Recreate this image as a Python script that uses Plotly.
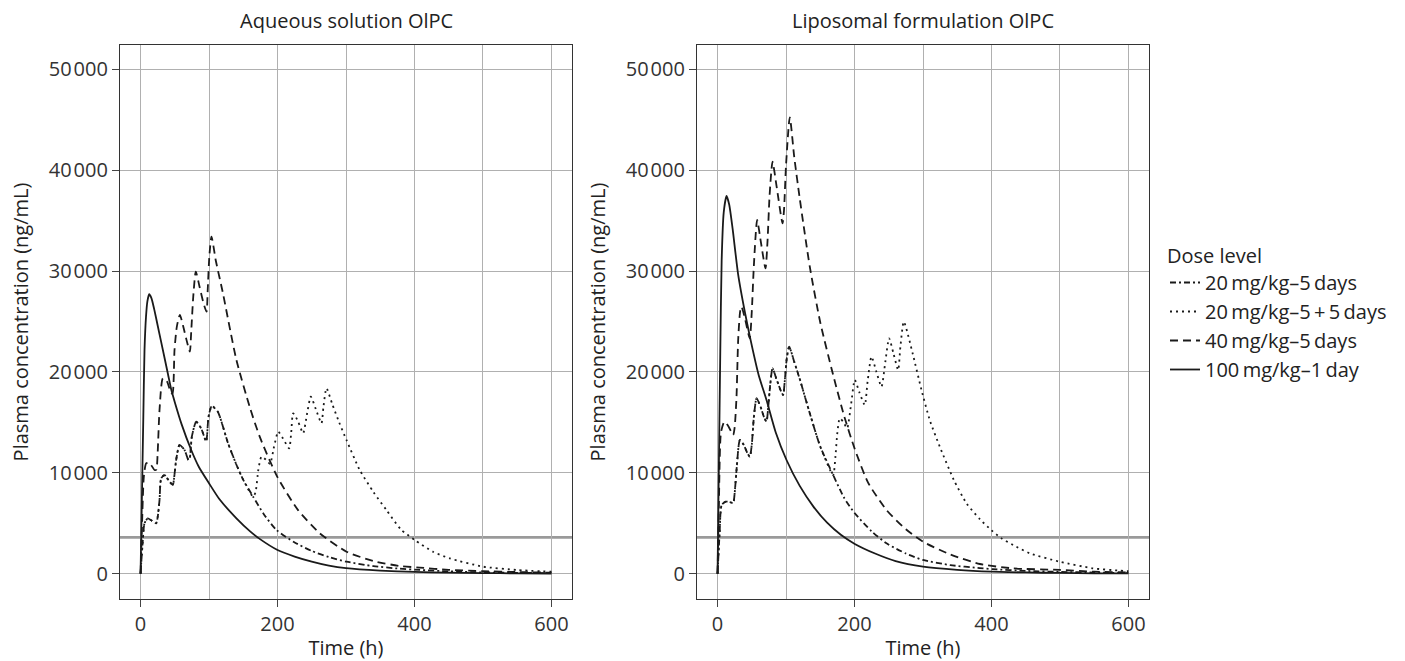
import plotly.graph_objects as go

# ---------------- data ----------------
SERIES_NAMES = [
    "20\u2009mg/kg\u20135\u2009days",
    "20\u2009mg/kg\u20135\u2009+\u20095\u2009days",
    "40\u2009mg/kg\u20135\u2009days",
    "100\u2009mg/kg\u20131\u2009day",
]
PANEL_TITLES = ["Aqueous solution OlPC", "Liposomal formulation OlPC"]
THRESHOLD = 3600
X_TICKS = [0, 200, 400, 600]
Y_TICKS = [0, 10000, 20000, 30000, 40000, 50000]
Y_TICK_TEXT = ["0", "10\u200a000", "20\u200a000", "30\u200a000", "40\u200a000", "50\u200a000"]

# ---- Aqueous solution ----
AQ_T_20x5 = [0, 3, 5.8, 10.7, 15.5, 22.8, 25, 27.7, 30.1, 35, 42.3, 47.2, 49, 52, 56.9, 64.2, 70, 72,
             74.9, 81.2, 88.5, 95.8, 97, 99.3, 104, 112.8, 127.4, 140, 150, 164.4, 180, 198.5, 225, 250,
             275, 300.7, 340, 378, 407.7, 450, 500, 550, 600]
AQ_C_20x5 = [0, 3000, 5000, 5490, 5300, 5000, 5600, 7300, 9450, 9780, 9120, 8790, 9500, 11270, 12760,
             12260, 11270, 11500, 13580, 15070, 14410, 13090, 13600, 15560, 16620, 16060, 13000, 10800,
             9300, 7630, 5900, 4330, 3100, 2250, 1650, 1190, 750, 500, 370, 230, 130, 80, 50]

AQ_T_20x10 = [0, 3, 5.8, 10.7, 15.5, 22.8, 25, 27.7, 30.1, 35, 42.3, 47.2, 49, 52, 56.9, 64.2, 70, 72,
              74.9, 81.2, 88.5, 95.8, 97, 99.3, 104, 112.8, 127.4, 140, 150, 164.4, 168, 172, 176.6, 183,
              189, 195, 201, 208, 217, 220, 222.8, 230, 237.4, 243, 248.6, 256, 264.2, 267, 271.5, 280,
              290, 300.7, 320, 340, 359, 380, 400.4, 427, 451.5, 500, 549, 600]
AQ_C_20x10 = [0, 3000, 5000, 5490, 5300, 5000, 5600, 7300, 9450, 9780, 9120, 8790, 9500, 11270, 12760,
              12260, 11270, 11500, 13580, 15070, 14410, 13090, 13600, 15560, 16620, 16060, 13000, 10800,
              9300, 7630, 8100, 10300, 11600, 11300, 10900, 12600, 14080, 13400, 12430, 14000, 15900,
              15100, 13920, 15800, 17550, 16300, 14910, 16500, 18380, 16800, 15000, 13250, 10280, 8100,
              6310, 4400, 3340, 2180, 1520, 700, 370, 190]

AQ_T_40x5 = [0, 2, 4.8, 8.2, 12, 15.5, 20.4, 23, 25, 27.7, 32.6, 38.8, 44.7, 46.7, 49.6, 53, 57.4, 62,
             67, 72, 74, 77, 80.7, 86, 92, 96.4, 98, 100.5, 103.6, 110, 120, 140, 160, 174, 199.5, 230,
             261.7, 300.7, 340, 378.5, 407.7, 450, 500, 550, 600]
AQ_C_40x5 = [0, 4500, 9620, 10940, 11000, 10770, 10280, 10310, 12000, 16230, 19370, 19030, 17880,
             17880, 22170, 24500, 25650, 24600, 23200, 22010, 24000, 27500, 29940, 28500, 26800, 25970,
             28000, 31500, 33410, 31000, 27900, 21180, 16400, 13580, 9620, 6300, 4000, 2180, 1250, 760,
             600, 380, 250, 160, 100]

AQ_T_100x1 = [0, 2, 4, 5.8, 8, 10, 12.6, 16, 20, 25, 30, 40, 45, 50, 60, 74, 85, 100, 115, 140, 160,
              175, 200, 225, 250, 275, 300, 350, 400, 450, 500, 550, 600]
AQ_C_100x1 = [0, 7600, 15300, 22200, 25500, 27000, 27700, 27300, 26200, 24600, 23000, 19800, 18200,
              17000, 14800, 12260, 10600, 8960, 7400, 5490, 4200, 3400, 2350, 1700, 1200, 800, 540, 300,
              170, 100, 60, 35, 20]

# ---- Liposomal formulation ----
LI_T_20x5 = [0, 3, 6, 12, 18, 22.8, 25, 28, 32.6, 38, 44, 47.2, 50, 53, 57, 63, 68, 71.5, 74, 77,
             80.3, 86, 92, 95.8, 98, 101, 104.6, 112, 120, 134.7, 150, 168.8, 185, 200.4, 225, 246.7,
             275, 300, 340, 383, 402, 450, 500, 550, 600]
LI_C_20x5 = [0, 4000, 6800, 7140, 7100, 7000, 8000, 10500, 13250, 12800, 11900, 11600, 12800, 15500,
             17390, 16500, 15500, 15070, 16500, 18800, 20360, 19300, 18200, 17710, 19000, 21300, 22500,
             21000, 19300, 15900, 12600, 9780, 7500, 5990, 4200, 3010, 2000, 1360, 850, 550, 450, 280,
             180, 110, 70]

LI_T_20x10 = [0, 3, 6, 12, 18, 22.8, 25, 28, 32.6, 38, 44, 47.2, 50, 53, 57, 63, 68, 71.5, 74, 77,
              80.3, 86, 92, 95.8, 98, 101, 104.6, 112, 120, 134.7, 150, 168.8, 172, 175, 178.5, 184,
              189.2, 195, 200.4, 207, 215, 219, 224.8, 232, 239.4, 245, 250.5, 257, 263.7, 267, 272,
              285, 297.8, 310, 324.5, 345, 363.5, 383, 400, 414.6, 431.5, 456, 499.7, 548, 587, 600]
LI_C_20x10 = [0, 4000, 6800, 7140, 7100, 7000, 8000, 10500, 13250, 12800, 11900, 11600, 12800, 15500,
              17390, 16500, 15500, 15070, 16500, 18800, 20360, 19300, 18200, 17710, 19000, 21300,
              22500, 21000, 19300, 15900, 12600, 9780, 11500, 14000, 15400, 15000, 14410, 16800, 19200,
              18000, 16720, 19000, 21510, 20000, 18540, 21000, 23330, 21800, 20190, 22500, 24980,
              21800, 18210, 15200, 12590, 9300, 6980, 5400, 4300, 3500, 2845, 2020, 1190, 535, 300, 250]

LI_T_40x5 = [0, 2, 5, 10, 16, 22.8, 25, 27.7, 30.1, 33, 35, 40, 47, 50, 53, 57.8, 63, 70, 73, 76,
             80.3, 86, 94.9, 97, 100, 105.5, 112, 120, 134.7, 150, 168.8, 185, 200.4, 220, 246.7, 275,
             300, 340, 383, 431, 500, 550, 600]
LI_C_40x5 = [0, 7000, 14000, 15070, 14600, 13750, 14500, 17550, 23170, 26000, 26470, 25300, 23330,
             26000, 30500, 35060, 33000, 30270, 33000, 37500, 40840, 38500, 34730, 36000, 40500, 45240,
             41300, 37200, 30430, 24900, 19700, 15600, 12350, 9000, 6310, 4400, 3170, 1900, 960, 530,
             370, 200, 120]

LI_T_100x1 = [0, 2, 4, 6, 9, 13.1, 17, 22, 30, 40, 47.2, 60, 71.5, 85, 100.7, 120, 140, 160, 180,
              200.4, 230, 260, 300, 350, 400, 450, 500, 550, 600]
LI_C_100x1 = [0, 11000, 22000, 31000, 35800, 37440, 36600, 34200, 29700, 25900, 23500, 19700, 17220,
              14000, 11270, 8700, 6650, 5050, 3850, 2950, 2000, 1250, 700, 380, 200, 120, 70, 40, 25]

PANELS = [
    [(AQ_T_20x5, AQ_C_20x5), (AQ_T_20x10, AQ_C_20x10), (AQ_T_40x5, AQ_C_40x5), (AQ_T_100x1, AQ_C_100x1)],
    [(LI_T_20x5, LI_C_20x5), (LI_T_20x10, LI_C_20x10), (LI_T_40x5, LI_C_40x5), (LI_T_100x1, LI_C_100x1)],
]
DASHES = ["6px,3px,2px,3px", "2px,4px", "8px,5px", "solid"]

# ---------------- figure ----------------
FONT = "Open Sans"
TXT = "#222222"
GRID = "#b0b0b0"

fig = go.Figure()
for p, panel in enumerate(PANELS):
    xa = "x" if p == 0 else "x2"
    ya = "y" if p == 0 else "y2"
    for s, (t, c) in enumerate(panel):
        fig.add_trace(go.Scatter(
            x=t, y=c, mode="lines", name=SERIES_NAMES[s],
            legendgroup=SERIES_NAMES[s], showlegend=(p == 0),
            line=dict(color="#1a1a1a", width=1.8, dash=DASHES[s], shape="spline", smoothing=0.6),
            xaxis=xa, yaxis=ya, hoverinfo="skip",
        ))
    fig.add_shape(type="line", xref=f"{xa} domain", yref=ya, x0=0, x1=1,
                  y0=THRESHOLD, y1=THRESHOLD, line=dict(color="#9a9a9a", width=2.6), layer="below")

W, H = 1405, 661
ML, MR, MT, MB = 120, 1405 - 1149, 45, 62
PW = W - ML - MR

axis_common = dict(
    showline=True, mirror=True, linecolor="#333333", linewidth=1.2,
    ticks="outside", ticklen=7, tickcolor="#444444", tickwidth=1.2,
    showgrid=True, gridcolor=GRID, gridwidth=1.2, zeroline=False,
    tickfont=dict(family=FONT, size=20, color="#333333"),
)
xcommon = dict(axis_common, range=[-30, 630], tickvals=X_TICKS,
               minor=dict(dtick=100, tick0=0, showgrid=True, gridcolor=GRID, gridwidth=1.2, ticks=""),
               title=dict(text="Time (h)", font=dict(family=FONT, size=20, color=TXT), standoff=10))
ycommon = dict(axis_common, range=[-2510, 52410], tickvals=Y_TICKS, ticktext=Y_TICK_TEXT,
               title=dict(text="Plasma concentration (ng/mL)", font=dict(family=FONT, size=20, color=TXT),
                          standoff=14))

fig.update_layout(
    width=W, height=H,
    margin=dict(l=ML, r=MR, t=MT, b=MB, autoexpand=False),
    paper_bgcolor="white", plot_bgcolor="white",
    font=dict(family=FONT, size=20, color=TXT),
    xaxis=dict(xcommon, domain=[0, 452 / PW], anchor="y"),
    xaxis2=dict(xcommon, domain=[(697 - ML) / PW, 1], anchor="y2"),
    yaxis=dict(ycommon, domain=[0, 1], anchor="x"),
    yaxis2=dict(ycommon, domain=[0, 1], anchor="x2"),
    legend=dict(
        title=dict(text="Dose level", font=dict(family=FONT, size=20, color=TXT)),
        font=dict(family=FONT, size=20, color=TXT),
        x=(1165 - ML) / PW, xanchor="left", y=1 - (237 - MT) / (H - MT - MB), yanchor="top",
        bgcolor="rgba(0,0,0,0)", traceorder="normal", itemwidth=30, tracegroupgap=1,
    ),
    showlegend=True,
)

for p, title in enumerate(PANEL_TITLES):
    dom = fig.layout.xaxis.domain if p == 0 else fig.layout.xaxis2.domain
    fig.add_annotation(text=title, xref="paper", yref="paper",
                       x=(dom[0] + dom[1]) / 2, y=1 + 25 / (H - MT - MB), xanchor="center",
                       yanchor="middle", showarrow=False,
                       font=dict(family=FONT, size=20, color=TXT))

fig.write_html("out.html", config={"displayModeBar": False},
               post_script="document.body.style.margin='0';document.body.style.overflow='hidden';")
